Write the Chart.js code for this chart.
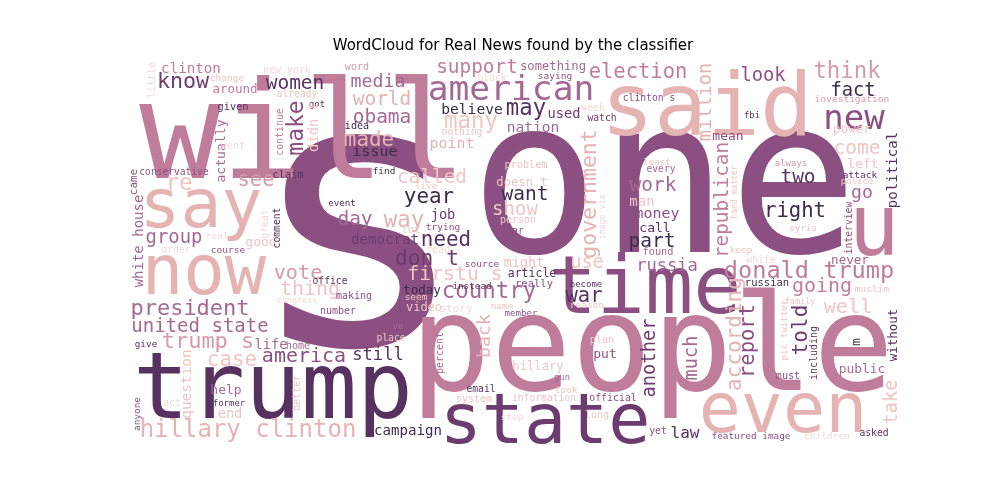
<!DOCTYPE html>
<html>
<head>
<meta charset="utf-8">
<script src="https://cdn.jsdelivr.net/npm/chart.js@4.4.0/dist/chart.umd.min.js"></script>
<style>
  html, body { margin: 0; padding: 0; background: #fff; }
  #wrap { width: 1000px; height: 500px; position: relative; }
</style>
</head>
<body>
<div id="wrap"><canvas id="cloud"></canvas></div>
<script>
// word cloud laid out on a 770 x 385 grid (x right, y down)
// horizontal words: x = centre, y = baseline; vertical words: x = baseline, y = centre
const words = [
  's', 'one', 'will', 'said', 'people', 'trump', 'time', 'state', 'even', 'say',
  'now', 'u', 'new', 'american', 'donald trump', 'hillary clinton', 'president', 'united state', 'trump s', 'election',
  'support', 'government', 'republican', 'according', 'report', 'told', 'another', 'much', 'million', 'make',
  'actually', 'back', 'take', 'political', 'without', 'white house', 'question', 'know', 'clinton', 'women',
  'around', 'media', 'world', 'obama', 'made', 'issue', 'called', 'believe', 'many', 'may',
  'nation', 'point', 'something', 'used', 'look', 'think', 'fact', 'come', 'left', 'power',
  'two', 'right', 'go', 'going', 'well', 'never', 'public', 'mean', 'work', 'part',
  'call', 'money', 'man', 'russia', 'use', 'war', 'want', 'show', 'year', 'day',
  'way', 'job', 'democrat', 'need', 'don t', 'firstu s', 'country', 'today', 'might', 'group',
  'good', 'vote', 'thing', 'america', 'case', 'still', 'campaign', 'see', 're', 'law',
  'put', 'hillary', 'life', 'help', 'end', 'video', 'little', 'change', 'new york', 'already',
  'got', 'given', 'continue', 'didn t', 'went', 'conservative', 'came', 'claim', 'word', 'idea',
  'find', 'live', 'black', 'nothing', 'problem', 'doesn t', 'saying', 'clinton s', 'week', 'watch',
  'least', 'every', 'investigation', 'fbi', 'always', 'attack', 'police', 'matter', 'hand', 'interview',
  'syria', 'keep', 'white', 'russian', 'muslim', 'family', 'pic twitter', 'including', 'm', 'must',
  'featured image', 'children', 'asked', 'real', 'order', 'course', 'great', 'comment', 'congress', 'office',
  'number', 'give', 'home', 'former', 'act', 'better', 'anyone', 'place', 've', 'percent',
  'story', 'member', 'email', 'system', 'information', 'stop', 'plan', 'gun', 'took', 'official',
  'long', 'yet', 'event', 'lot', 'trying', 'person', 'far', 'read', 'source', 'article',
  'instead', 'making', 'seem', 'name', 'really', 'become', 'reason', 'found', 'image via'
];

const wordX = [
  230, 536, 175, 579, 524, 145, 517, 417, 655, 73,
  76, 746, 726, 383, 681, 120, 62, 72, 80, 510,
  349, 468, 600, 613, 626, 679, 527, 569, 583, 175,
  97, 362, 769, 769, 769, 15, 63, 55, 63, 167,
  107, 250, 254, 254, 241, 247, 304, 344, 343, 398,
  405, 324, 425, 436, 635, 719, 725, 729, 735, 724,
  670, 667, 734, 694, 720, 722, 734, 600, 525, 524,
  527, 529, 514, 539, 459, 456, 397, 387, 301, 227,
  276, 315, 257, 318, 299, 327, 361, 294, 396, 46,
  133, 170, 182, 176, 104, 250, 280, 128, 51, 557,
  477, 410, 143, 98, 102, 296, 27, 99, 159, 169,
  189, 105, 155, 190, 105, 46, 9, 160, 229, 229,
  256, 298, 364, 334, 398, 394, 427, 521, 465, 474,
  529, 533, 724, 624, 663, 732, 729, 609, 609, 724,
  675, 613, 633, 639, 744, 672, 659, 689, 732, 660,
  623, 699, 746, 89, 48, 100, 140, 152, 169, 202,
  210, 18, 170, 101, 44, 172, 12, 263, 270, 315,
  328, 393, 353, 346, 416, 384, 474, 434, 438, 485,
  469, 530, 214, 283, 315, 390, 387, 310, 354, 404,
  344, 226, 288, 374, 406, 458, 459, 530, 477
];

const wordY = [
  284, 192, 118, 75, 330, 358, 253, 383, 372, 167,
  234, 195, 69, 40, 218, 377, 255, 272, 288, 18,
  13, 134, 140, 274, 281, 270, 298, 298, 42, 68,
  91, 276, 342, 110, 275, 181, 324, 28, 13, 29,
  33, 27, 45, 63, 86, 96, 123, 54, 68, 55,
  72, 88, 10, 58, 21, 18, 36, 94, 108, 73,
  123, 157, 138, 232, 253, 204, 313, 80, 131, 187,
  172, 158, 146, 211, 208, 242, 140, 155, 143, 165,
  167, 159, 184, 186, 205, 220, 238, 234, 207, 183,
  186, 219, 235, 302, 306, 300, 375, 126, 130, 378,
  298, 310, 289, 334, 358, 251, 20, 21, 13, 37,
  47, 50, 72, 67, 89, 115, 122, 118, 10, 69,
  114, 129, 21, 75, 108, 126, 19, 41, 51, 61,
  105, 112, 42, 58, 106, 118, 124, 120, 149, 168,
  171, 193, 203, 226, 232, 244, 270, 293, 282, 319,
  379, 379, 376, 179, 193, 193, 164, 168, 243, 224,
  254, 287, 289, 346, 346, 333, 354, 281, 269, 293,
  252, 256, 332, 342, 341, 360, 283, 320, 333, 341,
  358, 374, 146, 173, 170, 163, 174, 193, 207, 217,
  229, 239, 240, 249, 227, 227, 248, 195, 157
];

const fontSizes = [
  375, 215, 136, 88, 134, 93, 80, 70, 70, 68,
  69, 85, 34, 34.6, 23.6, 24, 22, 19, 22, 20.5,
  19.4, 21.5, 19.3, 21, 20.5, 21, 18.7, 18.6, 18.6, 23,
  13.1, 18.2, 18.6, 14.1, 12.5, 14, 14.4, 21.7, 14.2, 19.5,
  12.5, 18.3, 19.5, 19.5, 20.9, 14.9, 19.4, 14.6, 22.4, 22.3,
  14.6, 14.9, 12.2, 13.7, 18.8, 22.3, 18.8, 19.5, 13, 12.6,
  19.5, 20.6, 18.1, 20, 20.2, 12.6, 12.9, 13, 19.5, 19.5,
  13, 14.9, 14, 17.1, 18.6, 20.5, 19.5, 19, 20.9, 19.5,
  22.5, 13.7, 14.1, 20.9, 21.2, 19.8, 22.4, 12.6, 13.5, 18.9,
  13, 20.2, 20, 20, 20.9, 17.2, 14.1, 20.5, 22.6, 16,
  13, 12.2, 13.7, 13, 13.7, 12, 10, 9.5, 9.9, 9.7,
  8.8, 10.3, 9.9, 13.8, 10.1, 9.6, 11, 10.3, 10.1, 10.1,
  9.4, 9.4, 9.7, 9.7, 10.2, 12.2, 9.5, 9.7, 10.1, 9.7,
  9.2, 9.7, 9.5, 8.8, 9, 9.5, 9, 8, 8, 9.7,
  9.2, 9.4, 9.7, 10.5, 9.5, 8.5, 9.2, 10, 13, 10.1,
  9.4, 9.5, 9.7, 9.4, 9.7, 9.5, 9.6, 9.7, 8.5, 9.7,
  10, 9.4, 10.1, 9, 9.8, 10, 9.4, 9.7, 9, 10,
  11, 9.1, 9.7, 10, 9.7, 9.4, 10.1, 8.8, 9.4, 9.9,
  10.1, 9.8, 9.2, 10.7, 9.5, 10, 9.8, 10.1, 9.5, 11.5,
  9.3, 10, 9.4, 9.4, 10.5, 9, 9.5, 10.3, 8.3
];

// 1 = rotated 90 degrees, reads bottom to top
const vertical = [
  0, 0, 0, 0, 0, 0, 0, 0, 0, 0,
  0, 0, 0, 0, 0, 0, 0, 0, 0, 0,
  0, 1, 1, 1, 1, 1, 1, 1, 1, 1,
  1, 1, 1, 1, 1, 1, 1, 0, 0, 0,
  0, 0, 0, 0, 0, 0, 0, 0, 0, 0,
  0, 0, 0, 0, 0, 0, 0, 0, 0, 0,
  0, 0, 0, 0, 0, 0, 0, 0, 0, 0,
  0, 0, 0, 0, 0, 0, 0, 0, 0, 0,
  0, 0, 0, 0, 0, 0, 0, 0, 0, 0,
  0, 0, 0, 0, 0, 0, 0, 0, 0, 0,
  0, 0, 0, 0, 0, 0, 1, 0, 0, 0,
  0, 0, 1, 1, 0, 0, 1, 0, 0, 0,
  0, 0, 0, 0, 0, 0, 0, 0, 0, 0,
  0, 0, 0, 0, 0, 0, 0, 1, 1, 1,
  0, 0, 0, 0, 0, 0, 1, 1, 1, 0,
  0, 0, 0, 0, 0, 0, 1, 1, 0, 0,
  0, 0, 0, 0, 0, 1, 1, 0, 0, 1,
  0, 0, 0, 0, 0, 0, 0, 0, 0, 0,
  0, 0, 0, 0, 0, 0, 0, 0, 0, 0,
  0, 0, 0, 0, 0, 0, 0, 0, 1
];

// index into palette, light pink -> dark purple
const shade = [
  6, 6, 4, 2, 4, 8, 6, 7, 2, 2,
  2, 4, 6, 5, 4, 2, 5, 5, 3, 4,
  4, 2, 4, 2, 6, 7, 7, 5, 2, 6,
  5, 2, 1, 8, 8, 5, 1, 7, 4, 8,
  4, 5, 2, 5, 2, 9, 1, 9, 1, 8,
  5, 2, 5, 7, 6, 3, 9, 1, 1, 1,
  8, 9, 5, 4, 1, 5, 5, 6, 5, 9,
  8, 6, 1, 5, 1, 8, 9, 1, 9, 5,
  2, 7, 7, 8, 7, 1, 5, 9, 1, 5,
  1, 3, 1, 6, 1, 8, 9, 3, 1, 8,
  6, 1, 5, 5, 1, 1, 0, 1, 0, 1,
  8, 8, 4, 1, 0, 6, 6, 8, 3, 9,
  9, 1, 0, 1, 1, 1, 6, 6, 0, 7,
  1, 5, 3, 8, 3, 8, 1, 1, 1, 6,
  1, 1, 0, 9, 1, 1, 1, 8, 9, 6,
  6, 0, 8, 0, 0, 6, 0, 8, 0, 8,
  6, 8, 5, 8, 0, 1, 6, 1, 5, 5,
  0, 6, 8, 1, 1, 0, 1, 5, 1, 6,
  1, 6, 8, 1, 6, 1, 6, 0, 6, 8,
  8, 6, 1, 1, 6, 8, 1, 5, 0
];

const palette = [
  '#f3d9d6', '#eec6c3', '#e6b3b3', '#d69aa9', '#bf7c9b',
  '#a46894', '#8b5081', '#6b3c6d', '#573260', '#3e2b4c'
];

const wordLayer = {
  id: 'wordLayer',
  afterDatasetsDraw(chart) {
    const ctx = chart.ctx;
    const xs = chart.scales.x;
    const k = (xs.getPixelForValue(770) - xs.getPixelForValue(0)) / 770;
    const meta = chart.getDatasetMeta(0);
    ctx.save();
    meta.data.forEach((pt, i) => {
      ctx.save();
      ctx.translate(pt.x, pt.y);
      if (vertical[i]) ctx.rotate(-Math.PI / 2);
      ctx.font = (fontSizes[i] * k) + 'px "DejaVu Sans Mono"';
      ctx.textAlign = 'center';
      ctx.textBaseline = 'alphabetic';
      ctx.fillStyle = palette[shade[i]];
      ctx.fillText(words[i], 0, 0);
      ctx.restore();
    });
    ctx.restore();
  }
};

new Chart(document.getElementById('cloud'), {
  type: 'scatter',
  data: {
    datasets: [{
      data: words.map((w, i) => ({ x: wordX[i], y: wordY[i] })),
      pointRadius: 0,
      pointHoverRadius: 0
    }]
  },
  options: {
    responsive: true,
    maintainAspectRatio: false,
    animation: false,
    layout: { padding: { left: 128, right: 102, top: 0, bottom: 55 } },
    scales: {
      x: { type: 'linear', min: 0, max: 770, display: false },
      y: { type: 'linear', min: 0, max: 385, reverse: true, display: false }
    },
    plugins: {
      legend: { display: false },
      tooltip: { enabled: false },
      title: {
        display: true,
        text: 'WordCloud for Real News found by the classifier',
        color: '#000',
        font: { family: 'DejaVu Sans', size: 15, weight: 'normal' },
        padding: { top: 37.5, bottom: 4.5 }
      }
    }
  },
  plugins: [wordLayer]
});
</script>
</body>
</html>
